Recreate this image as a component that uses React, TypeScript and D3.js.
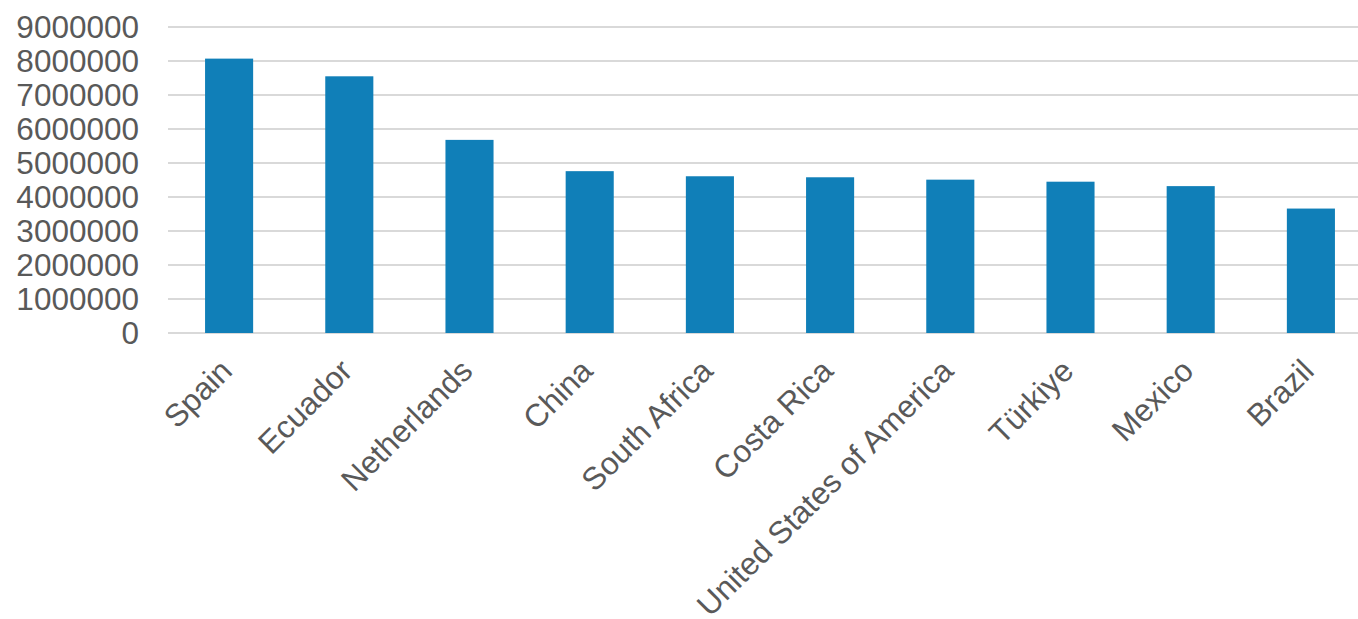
import React from "react";
import * as d3 from "d3";

const countries = ["Spain", "Ecuador", "Netherlands", "China", "South Africa", "Costa Rica", "United States of America", "Türkiye", "Mexico", "Brazil"];
const values = [8070000, 7550000, 5680000, 4760000, 4610000, 4580000, 4510000, 4450000, 4320000, 3660000];
const yTicks = [0, 1000000, 2000000, 3000000, 4000000, 5000000, 6000000, 7000000, 8000000, 9000000];

const W = 1358;
const H = 619;

export default function App() {
  const x = d3.scaleBand<string>().domain(countries).range([169, 1371]).paddingInner(0.6).paddingOuter(0.3);
  const y = d3.scaleLinear().domain([0, 9000000]).range([333, 27]);
  const font = "'Liberation Sans', Arial, sans-serif";
  return (
    <div style={{ position: "fixed", left: 0, top: 0 }}>
      <svg width={W} height={H} style={{ display: "block", background: "#fff" }}>
        {yTicks.map((t) => (
          <g key={t}>
            <line x1={168} x2={W} y1={y(t)} y2={y(t)} stroke="#d9d9d9" strokeWidth={2} />
            <text x={139} y={y(t)} dy="0.36em" textAnchor="end" fontFamily={font} fontSize={31.5} fill="#595959">
              {t}
            </text>
          </g>
        ))}
        {countries.map((c, i) => (
          <rect key={c} x={x(c)} y={y(values[i])} width={x.bandwidth()} height={y(0) - y(values[i])} fill="#107FB8" />
        ))}
        {countries.map((c) => {
          const cx = (x(c) as number) + x.bandwidth() / 2;
          return (
            <text
              key={c}
              transform={`translate(${cx - 3},${365}) rotate(-45)`}
              textAnchor="end"
              dy="0.35em"
              fontFamily={font}
              fontSize={31.5}
              fill="#595959"
            >
              {c}
            </text>
          );
        })}
      </svg>
    </div>
  );
}
